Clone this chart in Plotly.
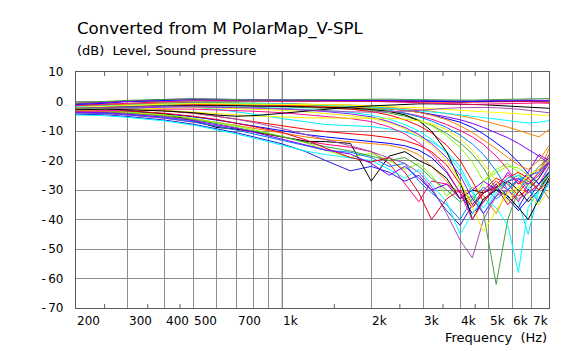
import math
import plotly.graph_objects as go

# ---------------- data ----------------
FREQ = [200, 250, 300, 400, 500, 600, 700, 800, 1000, 1200, 1400, 1700, 2000, 2300,
        2600, 2900, 3200, 3600, 4000, 4400, 4800, 5300, 5800, 6300, 6800, 7400, 8000]

# front / near-axis curves
t01 = [-0.5, 0.0, 0.4, 0.7, 0.9, 0.8, 0.6, 0.5, 0.5, 0.6, 0.7, 0.7, 0.8, 0.8, 0.7, 0.6, 0.6, 0.5, 0.5, 0.5, 0.6, 0.7, 0.8, 0.8, 0.9, 0.9, 1.0]
t02 = [-0.8, -0.3, 0.2, 0.7, 0.9, 0.9, 0.7, 0.6, 0.6, 0.6, 0.6, 0.6, 0.6, 0.5, 0.4, 0.4, 0.3, 0.2, 0.2, 0.2, 0.3, 0.4, 0.5, 0.5, 0.5, 0.4, 0.4]
t03 = [-1.0, -0.6, 0.0, 0.4, 0.6, 0.6, 0.5, 0.4, 0.4, 0.5, 0.5, 0.5, 0.4, 0.3, 0.2, 0.1, 0.0, -0.1, -0.1, 0.0, 0.1, 0.2, 0.3, 0.3, 0.3, 0.2, 0.2]
t04 = [-0.6, -0.2, 0.3, 0.6, 0.7, 0.6, 0.5, 0.3, 0.2, 0.2, 0.3, 0.3, 0.3, 0.2, 0.1, -0.1, -0.2, -0.3, -0.3, -0.2, -0.1, 0.0, 0.1, 0.0, 0.0, -0.1, -0.2]
t05 = [-1.3, -0.9, -0.4, 0.0, 0.3, 0.3, 0.2, 0.1, 0.1, 0.2, 0.2, 0.2, 0.1, -0.1, -0.3, -0.5, -0.7, -0.9, -1.0, -1.0, -0.9, -0.8, -0.6, -0.5, -0.4, -0.5, -0.6]
t06 = [-2.2, -2.0, -1.8, -1.6, -1.6, -1.7, -1.9, -2.1, -2.5, -2.9, -3.2, -3.5, -3.6, -3.5, -3.3, -3.0, -2.6, -2.3, -2.1, -2.0, -2.0, -2.1, -2.3, -2.6, -3.0, -3.4, -3.8]
t07 = [-2.8, -2.6, -2.8, -3.2, -3.8, -4.6, -5.0, -4.8, -4.0, -3.2, -2.5, -1.9, -1.5, -1.2, -0.9, -0.8, -0.8, -0.8, -0.9, -1.0, -1.1, -1.3, -1.5, -1.7, -1.9, -2.1, -2.3]
t08 = [-2.0, -1.6, -1.2, -0.9, -0.7, -0.7, -0.8, -0.9, -1.0, -1.0, -1.1, -1.3, -1.5, -1.7, -1.9, -2.1, -2.4, -2.7, -3.0, -3.3, -3.6, -3.9, -4.1, -4.3, -4.5, -4.6, -4.7]
t09 = [-1.8, -1.5, -1.1, -0.8, -0.6, -0.6, -0.6, -0.7, -0.8, -1.0, -1.2, -1.5, -1.9, -2.3, -2.7, -3.1, -3.5, -4.0, -4.5, -5.0, -5.5, -6.0, -6.5, -7.0, -7.3, -7.0, -6.5]
t10 = [-1.5, -1.2, -0.9, -0.6, -0.5, -0.5, -0.6, -0.7, -0.8, -0.9, -1.0, -1.2, -1.5, -1.9, -2.3, -2.8, -3.3, -4.0, -4.8, -5.6, -6.5, -7.6, -8.7, -9.8, -10.8, -12.0, -9.5]
t11 = [-2.6, -2.5, -2.6, -3.0, -3.5, -4.0, -4.5, -4.9, -5.3, -5.5, -5.6, -5.6, -5.6, -5.7, -6.0, -6.6, -7.6, -9.5, -12.5, -16.5, -21.0, -27.0, -34.0, -29.0, -25.0, -23.0, -20.0]

# fan of curves rolling off at high frequency
m01 = [-1.7, -1.4, -1.0, -0.7, -0.6, -0.6, -0.7, -0.8, -0.9, -1.1, -1.3, -1.6, -2.0, -2.5, -3.0, -3.6, -4.3, -5.2, -6.2, -7.4, -8.8, -10.5, -12.3, -14.2, -16.2, -18.5, -21.0]
m02 = [-2.0, -1.7, -1.3, -1.0, -0.9, -0.9, -1.0, -1.1, -1.2, -1.4, -1.6, -2.0, -2.4, -3.1, -3.9, -4.9, -6.0, -7.8, -9.8, -12.0, -14.6, -18.5, -23.0, -28.0, -26.0, -23.0, -21.0]
m03 = [-1.4, -1.1, -0.8, -0.5, -0.4, -0.4, -0.5, -0.6, -0.8, -1.0, -1.3, -1.7, -2.2, -3.0, -4.0, -5.2, -6.6, -8.8, -11.4, -14.4, -18.0, -23.5, -30.0, -26.5, -25.0, -24.0, -20.0]
m04 = [-2.4, -2.1, -1.8, -1.5, -1.4, -1.4, -1.5, -1.6, -1.8, -2.0, -2.2, -2.6, -3.0, -3.9, -5.0, -6.4, -8.0, -10.8, -14.0, -17.8, -22.5, -30.0, -27.0, -25.0, -27.0, -30.0, -24.0]
m05 = [-1.2, -0.9, -0.6, -0.3, -0.2, -0.3, -0.4, -0.5, -0.7, -0.9, -1.2, -1.7, -2.3, -3.3, -4.6, -6.2, -8.2, -11.6, -15.6, -20.5, -27.0, -24.0, -22.0, -22.5, -25.0, -28.0, -25.0]
m06 = [-1.9, -1.6, -1.3, -1.0, -0.9, -0.9, -1.0, -1.1, -1.3, -1.6, -2.0, -2.6, -3.4, -4.6, -6.2, -8.2, -10.6, -14.8, -20.0, -27.0, -34.0, -29.0, -26.0, -24.0, -26.0, -30.0, -27.0]
m07 = [-2.6, -2.3, -2.0, -1.7, -1.6, -1.7, -1.8, -2.0, -2.3, -2.6, -3.0, -3.7, -4.6, -6.0, -7.8, -10.0, -12.8, -17.5, -23.5, -31.0, -36.0, -30.0, -26.0, -25.0, -29.0, -33.0, -28.0]
m08 = [-2.2, -2.0, -1.7, -1.4, -1.3, -1.3, -1.4, -1.5, -1.6, -1.7, -1.9, -2.2, -2.7, -3.4, -4.5, -6.5, -10.0, -17.0, -27.0, -40.0, -33.0, -30.0, -32.0, -36.0, -40.0, -33.0, -26.0]
m09 = [-3.0, -2.8, -2.5, -2.2, -2.1, -2.2, -2.4, -2.6, -3.0, -3.5, -4.0, -4.8, -5.7, -7.2, -9.2, -11.8, -14.8, -20.0, -27.0, -36.0, -44.0, -37.0, -31.0, -29.0, -32.0, -35.0, -30.0]
m10 = [-3.4, -3.1, -2.8, -2.6, -2.6, -2.8, -3.0, -3.3, -3.8, -4.4, -5.0, -5.8, -6.8, -8.6, -11.0, -14.0, -17.6, -23.5, -31.0, -40.0, -34.0, -28.0, -25.0, -27.0, -31.0, -28.0, -22.0]
m11 = [-1.6, -1.3, -0.9, -0.6, -0.5, -0.5, -0.6, -0.7, -0.8, -1.0, -1.2, -1.5, -1.8, -2.3, -2.9, -3.6, -4.5, -5.7, -7.0, -8.8, -11.0, -14.0, -17.0, -20.5, -24.5, -28.0, -24.0]
m12 = [-2.8, -2.5, -2.2, -1.9, -1.8, -1.9, -2.0, -2.2, -2.5, -2.9, -3.4, -4.2, -5.2, -6.8, -8.8, -11.2, -14.2, -19.0, -25.0, -33.0, -38.0, -32.0, -27.0, -26.0, -28.0, -25.0, -20.0]
m13 = [-1.9, -1.6, -1.2, -0.9, -0.8, -0.8, -0.9, -1.0, -1.1, -1.3, -1.5, -1.8, -2.1, -2.5, -3.0, -3.7, -4.6, -6.2, -8.2, -10.5, -13.0, -16.0, -19.0, -21.5, -23.0, -20.0, -15.0]

# rear curves
r01 = [-1.5, -1.3, -1.2, -1.4, -1.9, -2.6, -3.4, -4.3, -5.8, -7.0, -7.8, -8.2, -8.5, -9.3, -10.3, -11.8, -13.6, -17.0, -22.0, -30.0, -38.0, -31.0, -27.0, -34.0, -45.0, -30.0, -22.0]
r02 = [-2.4, -2.4, -2.6, -3.2, -4.0, -5.0, -6.0, -7.0, -8.4, -9.4, -10.2, -10.9, -11.5, -12.3, -13.2, -14.8, -17.0, -21.5, -28.0, -35.0, -30.0, -26.0, -28.0, -32.0, -30.0, -26.0, -20.0]
r03 = [-3.0, -3.1, -3.4, -4.2, -5.2, -6.3, -7.4, -8.4, -10.0, -11.2, -12.0, -12.8, -13.4, -14.2, -15.0, -16.5, -19.0, -24.0, -31.0, -38.0, -34.0, -29.0, -33.0, -37.0, -33.0, -28.0, -24.0]
r04 = [-3.4, -3.5, -3.9, -4.8, -5.9, -7.0, -8.1, -9.1, -10.8, -12.0, -12.9, -13.7, -14.3, -14.8, -16.0, -18.0, -22.0, -27.0, -33.0, -29.0, -32.0, -38.0, -30.0, -27.0, -28.0, -24.0, -16.0]
r05 = [-3.9, -4.1, -4.6, -5.7, -7.0, -8.3, -9.5, -10.6, -12.2, -13.5, -14.5, -15.5, -17.0, -21.0, -28.0, -34.0, -27.0, -28.0, -31.0, -36.0, -31.0, -27.0, -30.0, -34.0, -28.0, -24.0, -18.0]
r06 = [-2.6, -2.7, -3.1, -4.2, -6.5, -8.8, -9.4, -10.2, -12.0, -13.5, -13.6, -14.2, -27.0, -18.5, -17.0, -20.0, -22.0, -26.0, -33.0, -30.0, -31.0, -29.0, -27.0, -30.0, -34.0, -30.0, -25.0]
r07 = [-3.0, -3.1, -3.5, -4.5, -5.7, -7.0, -8.3, -9.6, -11.8, -14.0, -16.5, -19.0, -17.5, -20.0, -23.0, -21.0, -25.0, -32.0, -28.0, -34.0, -27.0, -23.0, -21.0, -24.0, -29.0, -25.0, -19.0]
r08 = [-3.8, -4.0, -4.5, -5.6, -6.9, -8.3, -9.7, -11.0, -13.2, -15.2, -16.5, -17.2, -19.0, -22.0, -21.0, -27.0, -31.0, -35.0, -40.0, -33.0, -29.0, -33.0, -30.0, -26.0, -30.0, -34.0, -27.0]
r09 = [-4.3, -4.5, -5.1, -6.3, -7.7, -9.2, -10.6, -12.0, -14.4, -17.0, -20.0, -23.5, -22.0, -24.0, -27.0, -25.0, -30.0, -37.0, -42.0, -35.0, -31.0, -28.0, -32.0, -36.0, -30.0, -26.0, -21.0]
r10 = [-2.0, -2.0, -2.3, -3.0, -3.9, -4.9, -6.0, -7.1, -9.2, -11.2, -12.8, -15.0, -17.0, -19.0, -21.0, -24.0, -29.0, -38.0, -47.0, -53.0, -40.0, -32.0, -30.0, -33.0, -31.0, -28.0, -33.0]
r11 = [-3.4, -3.6, -4.0, -5.0, -6.2, -7.5, -8.8, -10.0, -12.0, -13.8, -15.3, -16.8, -18.5, -20.0, -19.0, -22.0, -26.0, -30.0, -34.0, -32.0, -38.0, -62.0, -40.0, -30.0, -26.0, -22.0, -19.0]
r12 = [-4.6, -4.8, -5.4, -6.6, -8.0, -9.6, -11.0, -12.4, -14.8, -16.8, -18.0, -19.0, -20.0, -23.0, -26.0, -23.0, -28.0, -34.0, -45.0, -38.0, -33.0, -36.0, -42.0, -58.0, -36.0, -30.0, -26.0]
r13 = [-2.8, -2.9, -3.2, -4.0, -5.0, -6.1, -7.3, -8.5, -10.5, -13.0, -15.8, -19.0, -20.5, -19.0, -24.0, -31.0, -40.0, -33.0, -30.0, -36.0, -31.0, -29.0, -35.0, -31.0, -27.0, -30.0, -24.0]
r14 = [-3.6, -3.8, -4.3, -5.3, -6.5, -7.8, -9.1, -10.4, -12.8, -15.0, -16.4, -17.8, -21.0, -25.0, -22.0, -26.0, -30.0, -28.0, -33.0, -30.0, -27.0, -30.0, -24.0, -28.0, -24.0, -18.0, -20.0]

CURVES = [r01, r02, r03, r04, r05, r06, r07, r08, r09, r10, r11, r12, r13, r14,
          m01, m02, m03, m04, m05, m06, m07, m08, m09, m10, m11, m12, m13,
          t11, t10, t09, t08, t07, t06, t05, t04, t03, t02, t01]

Y_TICKS = [10, 0, -10, -20, -30, -40, -50, -60, -70]
Y_TEXT = ["10", "0", "-\u200910", "-\u200920", "-\u200930", "-\u200940", "-\u200950", "-\u200960", "-\u200970"]
X_GRID = [300, 400, 500, 600, 700, 800, 900, 1000, 2000, 3000, 4000, 5000, 6000, 7000]
X_LABEL_VALS = [200, 300, 400, 500, 700, 1000, 2000, 3000, 4000, 5000, 6000, 7000]
X_LABEL_TEXT = ["200", "300", "400", "500", "700", "1k", "2k", "3k", "4k", "5k", "6k", "7k"]
X_MINOR = [250, 350, 450, 1500, 2500, 3500, 4500]
X_RANGE = [200, 8000]

# ---------------- styles ----------------
COLORS = ["#00e8ff", "#ff0000", "#0000ff", "#ff8000", "#ff0080", "#000000", "#80ff00",
          "#0080ff", "#2020e0", "#a050b0", "#40a040", "#00ffff", "#e00020", "#8000ff",
          "#8000ff", "#ff0080", "#0080ff", "#40a040", "#80ff00", "#ff0000", "#00ffff",
          "#000000", "#f0f000", "#ff1493", "#0000ff", "#8020ff", "#ff8000",
          "#f0f000", "#ff8000", "#00ffff", "#ffff00", "#000000", "#a050b0", "#ff0080",
          "#ff0000", "#0000ff", "#8000ff", "#40a040"]

FONT = "DejaVu Sans"
fig = go.Figure()
for vals, col in zip(CURVES, COLORS):
    fig.add_trace(go.Scatter(x=FREQ, y=vals, mode="lines",
                             line=dict(color=col, width=1), hoverinfo="skip"))

lx0, lx1 = math.log10(X_RANGE[0]), math.log10(X_RANGE[1])

annotations = []
for v, t in zip(X_LABEL_VALS, X_LABEL_TEXT):
    annotations.append(dict(x=math.log10(v), xref="x", y=-0.054, yref="paper",
                            text=t, showarrow=False, xanchor="left", yanchor="middle",
                            xshift=-1, font=dict(family=FONT, size=12, color="#000")))
annotations.append(dict(x=0.0, xref="paper", y=1.183, yref="paper",
                        text="Converted from M PolarMap_V-SPL", showarrow=False,
                        xanchor="left", yanchor="middle", xshift=-1,
                        font=dict(family=FONT, size=16.6, color="#000")))
annotations.append(dict(x=0.0, xref="paper", y=1.093, yref="paper",
                        text="(dB)  Level, Sound pressure", showarrow=False,
                        xanchor="left", yanchor="middle", xshift=-1,
                        font=dict(family=FONT, size=13, color="#000")))
annotations.append(dict(x=1.0, xref="paper", y=-0.123, yref="paper",
                        text="Frequency  (Hz)", showarrow=False,
                        xanchor="right", yanchor="middle",
                        font=dict(family=FONT, size=13, color="#000")))

shapes = []
# darker 1k line
f1k = (math.log10(1000) - lx0) / (lx1 - lx0)
shapes.append(dict(type="line", xref="paper", yref="paper", x0=f1k, x1=f1k, y0=0, y1=1,
                   line=dict(color="#5a5a5a", width=1.3), layer="below"))
for v in X_MINOR:
    fx = (math.log10(v) - lx0) / (lx1 - lx0)
    shapes.append(dict(type="line", xref="paper", yref="paper", x0=fx, x1=fx,
                       y0=0, y1=4 / 236, line=dict(color="#606060", width=1)))
    shapes.append(dict(type="line", xref="paper", yref="paper", x0=fx, x1=fx,
                       y0=1 - 4 / 236, y1=1, line=dict(color="#606060", width=1)))

fig.update_layout(
    width=578, height=351, autosize=False,
    margin=dict(l=76, r=29, t=72, b=43, pad=0),
    paper_bgcolor="white", plot_bgcolor="white",
    showlegend=False, hovermode=False,
    font=dict(family=FONT, size=12, color="#000"),
    xaxis=dict(type="log", range=[lx0, lx1], tickmode="array", tickvals=X_GRID,
               showticklabels=False, ticks="", showgrid=True, gridcolor="#8c8c8c",
               gridwidth=1, showline=True, linecolor="#5a5a5a", linewidth=1.3,
               mirror=True, zeroline=False, fixedrange=True),
    yaxis=dict(range=[-70, 10], tickmode="array", tickvals=Y_TICKS, ticktext=Y_TEXT,
               ticks="", showgrid=True, gridcolor="#8c8c8c", gridwidth=1,
               showline=True, linecolor="#5a5a5a", linewidth=1.3, mirror=True,
               zeroline=False, ticklabelstandoff=9,
               tickfont=dict(family=FONT, size=12, color="#000"), fixedrange=True),
    annotations=annotations,
    shapes=shapes,
)

fig.write_html("out.html", config={"displayModeBar": False})
